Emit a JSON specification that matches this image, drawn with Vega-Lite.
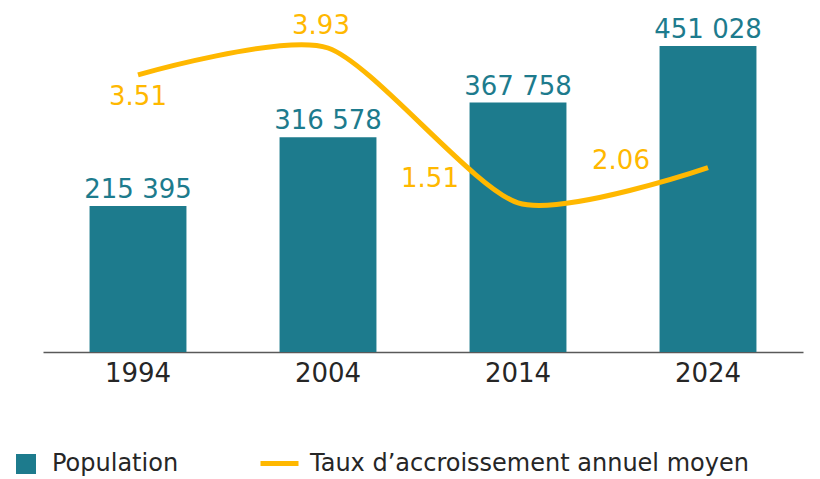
{
  "$schema": "https://vega.github.io/schema/vega-lite/v6.json",
  "width": 760,
  "height": 352,
  "autosize": {"type": "none"},
  "padding": {"left": 43, "right": 17, "top": 0, "bottom": 127},
  "config": {
    "view": {"stroke": null},
    "font": "DejaVu Sans",
    "locale": {"number": {"decimal": ".", "thousands": " ", "grouping": [3], "currency": ["", ""]}}
  },
  "data": {"values": [
    {"year": "1994", "pop": 215395, "rate": 3.51},
    {"year": "2004", "pop": 316578, "rate": 3.93},
    {"year": "2014", "pop": 367758, "rate": 1.51},
    {"year": "2024", "pop": 451028, "rate": 2.06}
  ]},
  "encoding": {
    "x": {
      "field": "year", "type": "nominal",
      "scale": {"paddingInner": 0.49, "paddingOuter": 0.245},
      "axis": {"title": null, "ticks": false, "labelAngle": 0, "labelFontSize": 26, "labelColor": "#262626", "labelPadding": 8, "domainColor": "#595959", "domainWidth": 1.5, "grid": false}
    }
  },
  "layer": [
    {
      "layer": [
        {
          "mark": {"type": "bar"},
          "encoding": {
            "y": {"field": "pop", "type": "quantitative", "scale": {"domain": [0, 519000], "nice": false}, "axis": null},
            "color": {"datum": "Population", "type": "nominal", "scale": {"range": ["#1D7B8D"]},
              "legend": {"title": null, "orient": "none", "legendX": -29, "legendY": 452, "symbolType": "square", "symbolSize": 400, "symbolOpacity": 1, "labelFontSize": 24, "labelColor": "#262626", "labelOffset": 14, "labelLimit": 600}}
          }
        },
        {
          "mark": {"type": "text", "baseline": "alphabetic", "dy": -8, "fontSize": 26, "color": "#1D7B8D"},
          "encoding": {
            "y": {"field": "pop", "type": "quantitative", "scale": {"domain": [0, 519000], "nice": false}, "axis": null},
            "text": {"field": "pop", "type": "quantitative", "format": ",d"}
          }
        }
      ]
    },
    {
      "layer": [
        {
          "mark": {"type": "line", "interpolate": "cardinal", "tension": 0.3, "strokeWidth": 5, "strokeCap": "butt"},
          "encoding": {
            "y": {"field": "rate", "type": "quantitative", "scale": {"domain": [-0.82, 4.68], "nice": false, "zero": false}, "axis": null},
            "stroke": {"datum": "Taux d’accroissement annuel moyen", "type": "nominal", "scale": {"range": ["#FFB800"]},
              "legend": {"title": null, "orient": "none", "legendX": 215, "legendY": 442, "symbolType": "stroke", "symbolSize": 1444, "symbolStrokeWidth": 5, "labelFontSize": 24, "labelColor": "#262626", "labelOffset": 9, "labelLimit": 600}}
          }
        },
        {
          "transform": [{"filter": "datum.year == '1994'"}],
          "mark": {"type": "text", "baseline": "middle", "dy": 22, "fontSize": 26, "color": "#FFB800"},
          "encoding": {
            "y": {"field": "rate", "type": "quantitative", "scale": {"domain": [-0.82, 4.68], "nice": false, "zero": false}, "axis": null},
            "text": {"field": "rate", "type": "quantitative", "format": ".2f"}
          }
        },
        {
          "transform": [{"filter": "datum.year == '2004'"}],
          "mark": {"type": "text", "baseline": "middle", "dx": -7, "dy": -22, "fontSize": 26, "color": "#FFB800"},
          "encoding": {
            "y": {"field": "rate", "type": "quantitative", "scale": {"domain": [-0.82, 4.68], "nice": false, "zero": false}, "axis": null},
            "text": {"field": "rate", "type": "quantitative", "format": ".2f"}
          }
        },
        {
          "transform": [{"filter": "datum.year == '2014'"}],
          "mark": {"type": "text", "baseline": "middle", "dx": -88, "dy": -24, "fontSize": 26, "color": "#FFB800"},
          "encoding": {
            "y": {"field": "rate", "type": "quantitative", "scale": {"domain": [-0.82, 4.68], "nice": false, "zero": false}, "axis": null},
            "text": {"field": "rate", "type": "quantitative", "format": ".2f"}
          }
        },
        {
          "transform": [{"filter": "datum.year == '2024'"}],
          "mark": {"type": "text", "baseline": "middle", "dx": -87, "dy": -7, "fontSize": 26, "color": "#FFB800"},
          "encoding": {
            "y": {"field": "rate", "type": "quantitative", "scale": {"domain": [-0.82, 4.68], "nice": false, "zero": false}, "axis": null},
            "text": {"field": "rate", "type": "quantitative", "format": ".2f"}
          }
        }
      ]
    }
  ],
  "resolve": {"scale": {"y": "independent"}}
}
